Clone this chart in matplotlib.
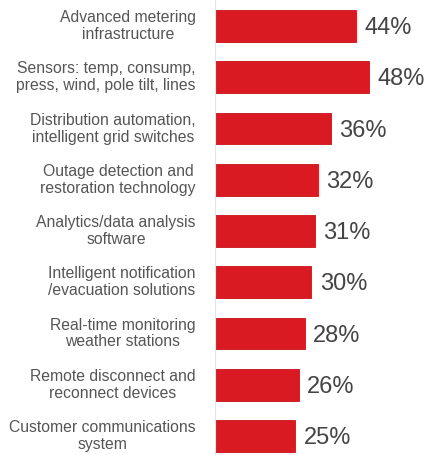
import matplotlib
matplotlib.use("Agg")
import matplotlib.pyplot as plt

categories = [
    "Advanced metering\ninfrastructure",
    "Sensors: temp, consump,\npress, wind, pole tilt, lines",
    "Distribution automation,\nintelligent grid switches",
    "Outage detection and\nrestoration technology",
    "Analytics/data analysis\nsoftware",
    "Intelligent notification\n/evacuation solutions",
    "Real-time monitoring\nweather stations",
    "Remote disconnect and\nreconnect devices",
    "Customer communications\nsystem",
]
values = [44, 48, 36, 32, 31, 30, 28, 26, 25]

plt.rcParams['font.family'] = ['Liberation Sans', 'DejaVu Sans']

fig = plt.figure(figsize=(4.25, 4.55), dpi=100)
ax = fig.add_axes([0.506, 0.0, 0.494, 1.0])

pos = list(range(len(values)))
ax.barh(pos, values, height=0.62, color='#d91a22', edgecolor='#c8141c', linewidth=0.6)

for y, v, lab in zip(pos, values, categories):
    ax.text(v + 2.6, y + 0.04, f"{v}%", va='center', ha='left',
            fontsize=17, color='#444444')
    ax.text(-6, y, lab, va='center', ha='right', multialignment='center',
            fontsize=11.3, color='#555555', linespacing=1.15)

ax.set_xlim(0, 65.4)
ax.set_ylim(8.37, -0.51)
ax.set_xticks([])
ax.set_yticks([])
for side in ['top', 'right', 'bottom']:
    ax.spines[side].set_visible(False)
ax.spines['left'].set_color('#e4e4e4')
ax.spines['left'].set_linewidth(0.8)

fig.savefig('out.png', dpi=100)
